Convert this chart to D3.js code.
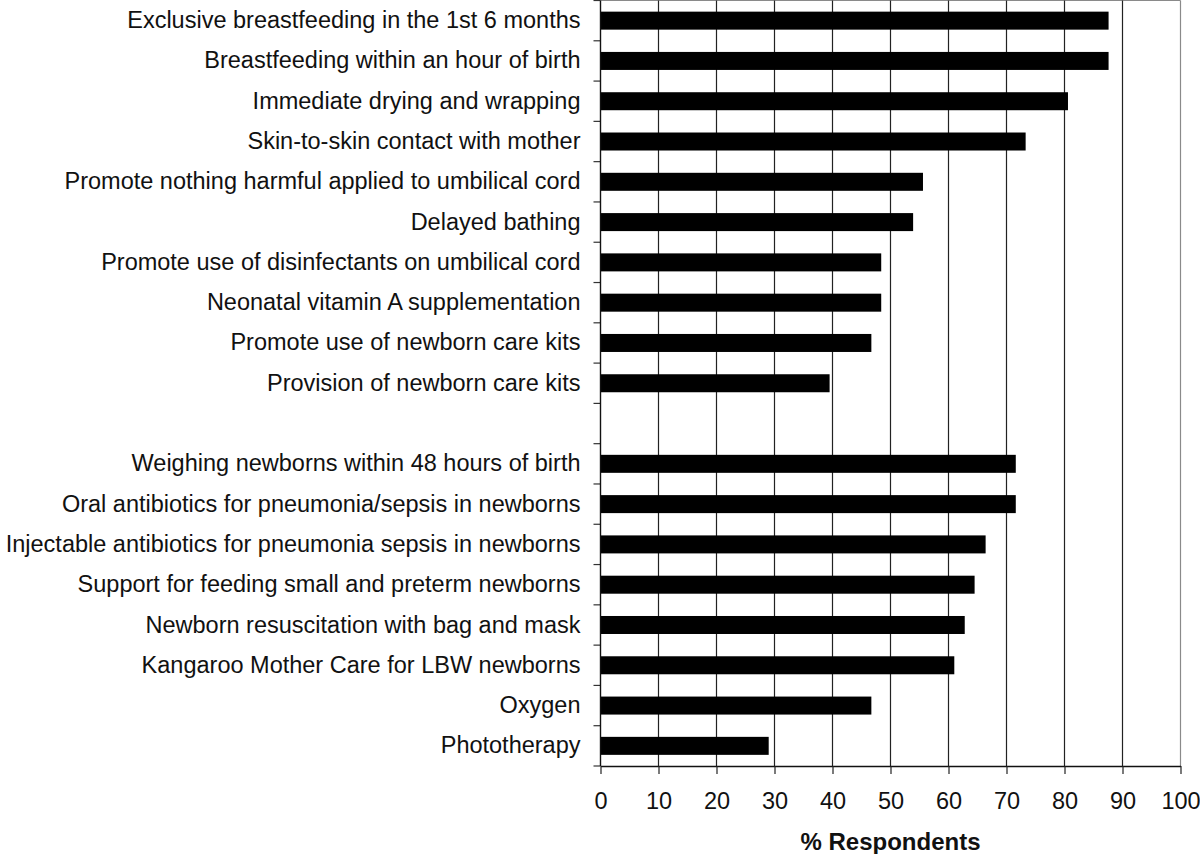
<!DOCTYPE html>
<html>
<head>
<meta charset="utf-8">
<script src="https://cdn.jsdelivr.net/npm/d3@7"></script>
<style>
  body { margin: 0; background: #fff; }
  svg { display: block; font-family: "Liberation Sans", Arial, sans-serif; }
</style>
</head>
<body>
<div id="chart"></div>
<script>
// rows top to bottom, "" marks the empty gap row between the two groups
const categories = [
  "Exclusive breastfeeding in the 1st 6 months",
  "Breastfeeding within an hour of birth",
  "Immediate drying and wrapping",
  "Skin-to-skin contact with mother",
  "Promote nothing harmful applied to umbilical cord",
  "Delayed bathing",
  "Promote use of disinfectants on umbilical cord",
  "Neonatal vitamin A supplementation",
  "Promote use of newborn care kits",
  "Provision of newborn care kits",
  "",
  "Weighing newborns within 48 hours of birth",
  "Oral antibiotics for pneumonia/sepsis in newborns",
  "Injectable antibiotics for pneumonia sepsis in newborns",
  "Support for feeding small and preterm newborns",
  "Newborn resuscitation with bag and mask",
  "Kangaroo Mother Care for LBW newborns",
  "Oxygen",
  "Phototherapy"
];
const values = [87.6, 87.6, 80.6, 73.3, 55.6, 53.9, 48.4, 48.4, 46.7, 39.5,
                null, 71.6, 71.6, 66.4, 64.5, 62.8, 61.0, 46.7, 29.0];
const xTicks = [0, 10, 20, 30, 40, 50, 60, 70, 80, 90, 100];
const xLabel = "% Respondents";

const width = 1200, height = 854;
const margin = {top: 0.5, right: 19.5, bottom: 88, left: 600.5};
const innerW = width - margin.left - margin.right;
const innerH = height - margin.top - margin.bottom;
const fontSize = 23.5;

const rows = categories.map((c, i) => ({key: i, label: c, value: values[i]}));

const svg = d3.select("#chart").append("svg")
  .attr("width", width)
  .attr("height", height);

const g = svg.append("g").attr("transform", `translate(${margin.left},${margin.top})`);

const x = d3.scaleLinear().domain([0, 100]).range([0, innerW]);
const y = d3.scaleBand().domain(rows.map(d => d.key)).range([0, innerH]).padding(0);

// plot frame (top / right in gray)
g.append("line").attr("x1", 0).attr("x2", innerW).attr("y1", 0).attr("y2", 0)
  .attr("stroke", "#8a8a8a").attr("stroke-width", 1.2);
g.append("line").attr("x1", innerW).attr("x2", innerW).attr("y1", 0).attr("y2", innerH)
  .attr("stroke", "#8a8a8a").attr("stroke-width", 1.2);

// vertical gridlines
g.selectAll(".grid").data(xTicks.filter(t => t > 0 && t < 100))
  .join("line")
  .attr("class", "grid")
  .attr("x1", d => x(d)).attr("x2", d => x(d))
  .attr("y1", 0).attr("y2", innerH)
  .attr("stroke", "#222").attr("stroke-width", 1.2);

// bars
const barH = 18;
g.selectAll(".bar").data(rows.filter(d => d.value != null))
  .join("rect")
  .attr("class", "bar")
  .attr("x", 0)
  .attr("y", d => y(d.key) + y.bandwidth() / 2 - barH / 2)
  .attr("width", d => x(d.value))
  .attr("height", barH)
  .attr("fill", "#000");

// y axis: labels centred on rows, ticks on row boundaries
const yAxis = g.append("g")
  .call(d3.axisLeft(y).tickSize(0).tickPadding(20).tickFormat(k => categories[k]));
yAxis.select(".domain").remove();
yAxis.selectAll("text").attr("font-size", fontSize).attr("fill", "#111")
  .attr("font-family", "'Liberation Sans', Arial, sans-serif");

const bounds = rows.map(d => y(d.key)).concat([innerH]);
g.selectAll(".ytick").data(bounds)
  .join("line")
  .attr("class", "ytick")
  .attr("x1", -7).attr("x2", 0)
  .attr("y1", d => d).attr("y2", d => d)
  .attr("stroke", "#333").attr("stroke-width", 1.2);
g.append("line").attr("x1", 0).attr("x2", 0).attr("y1", 0).attr("y2", innerH)
  .attr("stroke", "#111").attr("stroke-width", 1.4);

// x axis
const xAxis = g.append("g")
  .attr("transform", `translate(0,${innerH})`)
  .call(d3.axisBottom(x).tickValues(xTicks).tickSize(8).tickSizeOuter(0).tickPadding(18));
xAxis.select(".domain").attr("stroke", "#111").attr("stroke-width", 1.4);
xAxis.selectAll(".tick line").attr("stroke", "#222").attr("stroke-width", 1.2);
xAxis.selectAll("text").attr("font-size", fontSize).attr("fill", "#111")
  .attr("font-family", "'Liberation Sans', Arial, sans-serif");

g.append("text")
  .attr("x", innerW / 2)
  .attr("y", innerH + 84)
  .attr("text-anchor", "middle")
  .attr("font-size", 24)
  .attr("font-weight", "bold")
  .attr("fill", "#111")
  .text(xLabel);
</script>
</body>
</html>
